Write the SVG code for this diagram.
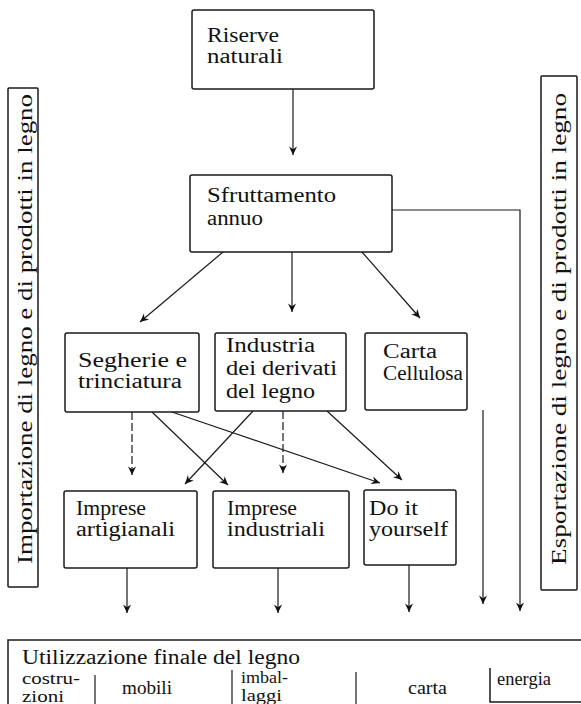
<svg xmlns="http://www.w3.org/2000/svg" width="581" height="704" viewBox="0 0 581 704">
<style>
.bx{fill:#fff;stroke:#1a1a1a;stroke-width:1.5}
.ln{fill:none;stroke:#1a1a1a;stroke-width:1.2}
.ds{stroke-dasharray:8 3}
.t{font-family:"Liberation Serif","Times New Roman",serif;font-size:20px;fill:#111}
.s{font-size:16px}
.m{font-size:18px}
</style>
<defs>
<marker id="ah" viewBox="0 0 10 10" refX="10" refY="5" markerWidth="9" markerHeight="9" markerUnits="userSpaceOnUse" orient="auto">
<path d="M10,5 L0.5,0.5 L3.5,5 L0.5,9.5 Z" fill="#111"/>
</marker>
</defs>
<rect width="581" height="704" fill="#fff"/>

<g id="connectors">
<line class="ln" x1="293" y1="89" x2="293" y2="155" marker-end="url(#ah)"/>
<line class="ln" x1="223" y1="252" x2="140" y2="322" marker-end="url(#ah)"/>
<line class="ln" x1="292" y1="252" x2="292" y2="312" marker-end="url(#ah)"/>
<line class="ln" x1="362" y1="252" x2="420" y2="318" marker-end="url(#ah)"/>
<polyline class="ln" points="392,210 520,210 520,611" marker-end="url(#ah)"/>
<line class="ln" x1="483" y1="410" x2="483" y2="604" marker-end="url(#ah)"/>
<line class="ln ds" x1="132" y1="412" x2="132" y2="475" marker-end="url(#ah)"/>
<line class="ln ds" x1="283" y1="411" x2="283" y2="473" marker-end="url(#ah)"/>
<line class="ln" x1="152" y1="412" x2="228" y2="485" marker-end="url(#ah)"/>
<line class="ln" x1="172" y1="412" x2="380" y2="483" marker-end="url(#ah)"/>
<line class="ln" x1="253" y1="411" x2="185" y2="484" marker-end="url(#ah)"/>
<line class="ln" x1="327" y1="411" x2="402" y2="480" marker-end="url(#ah)"/>
<line class="ln" x1="127" y1="568" x2="127" y2="613" marker-end="url(#ah)"/>
<line class="ln" x1="278" y1="568" x2="278" y2="613" marker-end="url(#ah)"/>
<line class="ln" x1="409" y1="565" x2="409" y2="612" marker-end="url(#ah)"/>
</g>

<g id="riserve">
<rect class="bx" x="192" y="10" width="182" height="79" rx="2"/>
<text class="t" x="207" y="42" textLength="72" lengthAdjust="spacingAndGlyphs">Riserve</text>
<text class="t" x="207" y="63" textLength="76" lengthAdjust="spacingAndGlyphs">naturali</text>
</g>

<g id="sfruttamento">
<rect class="bx" x="190" y="175" width="202" height="77" rx="2"/>
<text class="t" x="207" y="202" textLength="129" lengthAdjust="spacingAndGlyphs">Sfruttamento</text>
<text class="t" x="207" y="225" textLength="56" lengthAdjust="spacingAndGlyphs">annuo</text>
</g>

<g id="segherie">
<rect class="bx" x="65" y="333" width="134" height="79" rx="2"/>
<text class="t" x="78" y="367" textLength="109" lengthAdjust="spacingAndGlyphs">Segherie e</text>
<text class="t" x="78" y="388" textLength="104" lengthAdjust="spacingAndGlyphs">trinciatura</text>
</g>

<g id="industria">
<rect class="bx" x="215" y="333" width="131" height="78" rx="2"/>
<text class="t" x="226" y="352" textLength="89" lengthAdjust="spacingAndGlyphs">Industria</text>
<text class="t" x="226" y="375" textLength="111" lengthAdjust="spacingAndGlyphs">dei derivati</text>
<text class="t" x="226" y="398" textLength="89" lengthAdjust="spacingAndGlyphs">del legno</text>
</g>

<g id="carta">
<rect class="bx" x="365" y="333" width="102" height="77" rx="2"/>
<text class="t" x="383" y="358" textLength="54" lengthAdjust="spacingAndGlyphs">Carta</text>
<text class="t" x="383" y="380" textLength="80" lengthAdjust="spacingAndGlyphs">Cellulosa</text>
</g>

<g id="artigianali">
<rect class="bx" x="64" y="491" width="133" height="77" rx="2"/>
<text class="t" x="76" y="515" textLength="70" lengthAdjust="spacingAndGlyphs">Imprese</text>
<text class="t" x="76" y="536" textLength="99" lengthAdjust="spacingAndGlyphs">artigianali</text>
</g>

<g id="industriali">
<rect class="bx" x="213" y="491" width="136" height="77" rx="2"/>
<text class="t" x="227" y="515" textLength="70" lengthAdjust="spacingAndGlyphs">Imprese</text>
<text class="t" x="227" y="536" textLength="98" lengthAdjust="spacingAndGlyphs">industriali</text>
</g>

<g id="diy">
<rect class="bx" x="364" y="490" width="92" height="75" rx="2"/>
<text class="t" x="369" y="515" textLength="49" lengthAdjust="spacingAndGlyphs">Do it</text>
<text class="t" x="369" y="536" textLength="79" lengthAdjust="spacingAndGlyphs">yourself</text>
</g>

<g id="importazione">
<rect class="bx" x="8" y="88" width="30" height="499" rx="1"/>
<text class="t" transform="translate(32,329) rotate(-90)" text-anchor="middle" textLength="470" lengthAdjust="spacingAndGlyphs">Importazione di legno e di prodotti in legno</text>
</g>

<g id="esportazione">
<rect class="bx" x="541" y="76" width="36" height="514" rx="1"/>
<text class="t" transform="translate(566,329) rotate(-90)" text-anchor="middle" textLength="472" lengthAdjust="spacingAndGlyphs">Esportazione di legno e di prodotti in legno</text>
</g>

<g id="utilizzazione">
<path class="ln" style="stroke-width:1.5" d="M8,704 V640 H581"/>
<text class="t" x="22" y="664" textLength="278" lengthAdjust="spacingAndGlyphs">Utilizzazione finale del legno</text>
<line class="ln" x1="95" y1="675" x2="95" y2="704"/>
<line class="ln" x1="232" y1="670" x2="232" y2="704"/>
<line class="ln" x1="356" y1="672" x2="356" y2="704"/>
<path class="ln" style="stroke-width:1.5" d="M490,668 V702 H581"/>
<text class="t s" x="22" y="684" textLength="58" lengthAdjust="spacingAndGlyphs">costru-</text>
<text class="t s" x="22" y="702" textLength="42" lengthAdjust="spacingAndGlyphs">zioni</text>
<text class="t m" x="122" y="694" textLength="50" lengthAdjust="spacingAndGlyphs">mobili</text>
<text class="t s" x="241" y="683" textLength="47" lengthAdjust="spacingAndGlyphs">imbal-</text>
<text class="t s" x="241" y="701" textLength="41" lengthAdjust="spacingAndGlyphs">laggi</text>
<text class="t m" x="408" y="694" textLength="39" lengthAdjust="spacingAndGlyphs">carta</text>
<text class="t m" x="497" y="685" textLength="54" lengthAdjust="spacingAndGlyphs">energia</text>
</g>
</svg>
